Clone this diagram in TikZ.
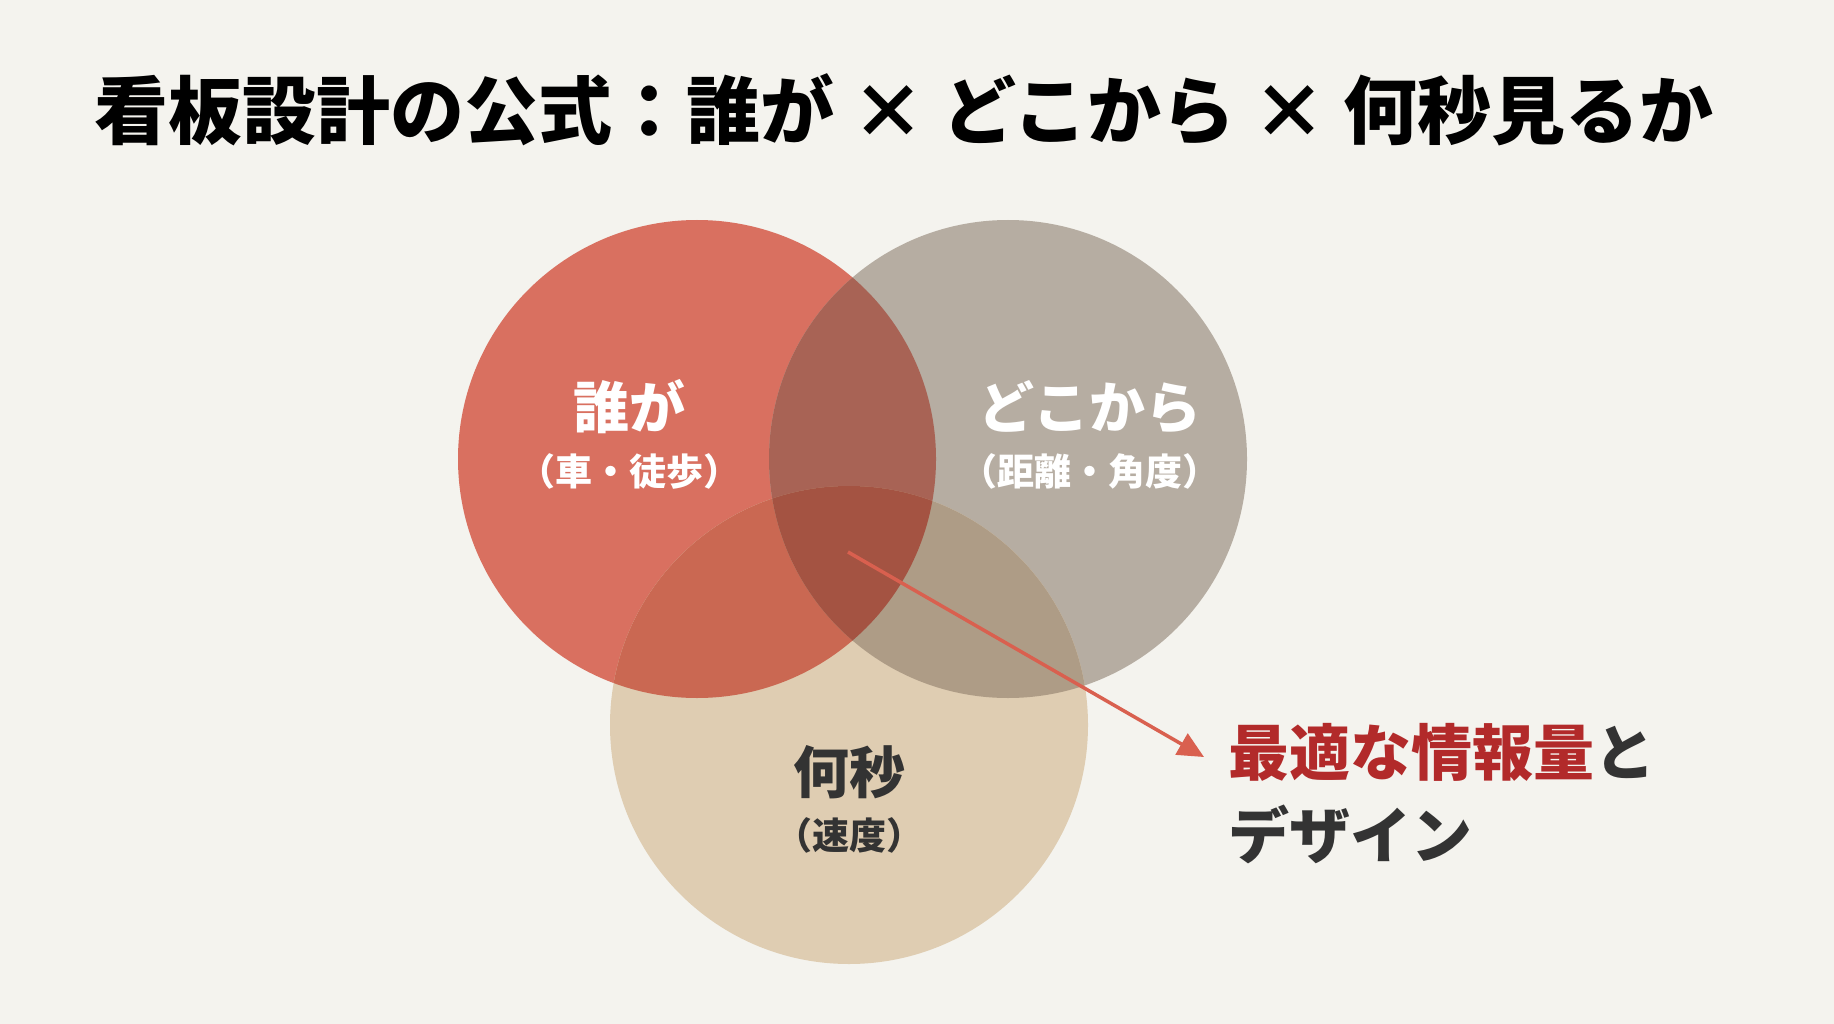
\documentclass[tikz,border=0pt]{standalone}
\usepackage{fontspec}
\setmainfont{Noto Sans CJK JP}
\usetikzlibrary{arrows.meta}
\definecolor{bg}{HTML}{F4F3EE}
\definecolor{cred}{HTML}{D97060}
\definecolor{cgray}{HTML}{B6ADA2}
\definecolor{cbeige}{HTML}{DFCDB2}
\definecolor{crg}{HTML}{A86355}
\definecolor{crb}{HTML}{CA6852}
\definecolor{cgb}{HTML}{AE9C86}
\definecolor{crgb}{HTML}{A45342}
\definecolor{arrowc}{HTML}{D9604F}
\definecolor{tred}{HTML}{B22A2A}
\definecolor{tdark}{HTML}{333333}
\tikzset{
  title/.style={anchor=west,inner sep=0pt,font=\bfseries\fontsize{74}{78}\selectfont,text=black},
  biglabel/.style={inner sep=0pt,font=\bfseries\fontsize{56}{60}\selectfont},
  sublabel/.style={inner sep=0pt,font=\bfseries\fontsize{37}{40}\selectfont},
  result/.style={anchor=west,inner sep=0pt,font=\bfseries\fontsize{61}{66}\selectfont,text=tdark},
  pointer/.style={draw=arrowc,line width=3.5pt,-{Triangle[length=26pt,width=24pt]}}
}
\begin{document}
\begin{tikzpicture}[x=1pt,y=-1pt]
\fill[bg] (0,0) rectangle (1834,1024);
\useasboundingbox (0,0) rectangle (1834,1024);
\def\R{239}
\coordinate (cr) at (697,459);
\coordinate (cg) at (1008,459);
\coordinate (cb) at (849,725);
% circles
\fill[cred] (cr) circle[radius=\R];
\fill[cgray] (cg) circle[radius=\R];
\fill[cbeige] (cb) circle[radius=\R];
% overlaps
\begin{scope}
  \clip (cr) circle[radius=\R];
  \fill[crg] (cg) circle[radius=\R];
\end{scope}
\begin{scope}
  \clip (cr) circle[radius=\R];
  \fill[crb] (cb) circle[radius=\R];
\end{scope}
\begin{scope}
  \clip (cg) circle[radius=\R];
  \fill[cgb] (cb) circle[radius=\R];
\end{scope}
\begin{scope}
  \clip (cr) circle[radius=\R];
  \clip (cg) circle[radius=\R];
  \fill[crgb] (cb) circle[radius=\R];
\end{scope}
% title
\node[title] (ttl) at (94,110) {看板設計の公式：誰が × どこから × 何秒見るか};
% labels
\node[biglabel,text=white] (who) at (629,407) {誰が};
\node[sublabel,text=white] (whosub) at (629,471) {（車・徒歩）};
\node[biglabel,text=white] (where) at (1090,407) {どこから};
\node[sublabel,text=white] (wheresub) at (1090,471) {（距離・角度）};
\node[biglabel,text=tdark] (sec) at (849,772) {何秒};
\node[sublabel,text=tdark] (secsub) at (849,835) {（速度）};
% result
\node[result] (res1) at (1228,752) {\textcolor{tred}{最適な情報量}と};
\node[result] (res2) at (1228,834) {デザイン};
% arrow
\coordinate (astart) at (848,552);
\coordinate (aend) at (1204,757);
\draw[pointer] (astart) -- (aend);
\end{tikzpicture}
\end{document}
